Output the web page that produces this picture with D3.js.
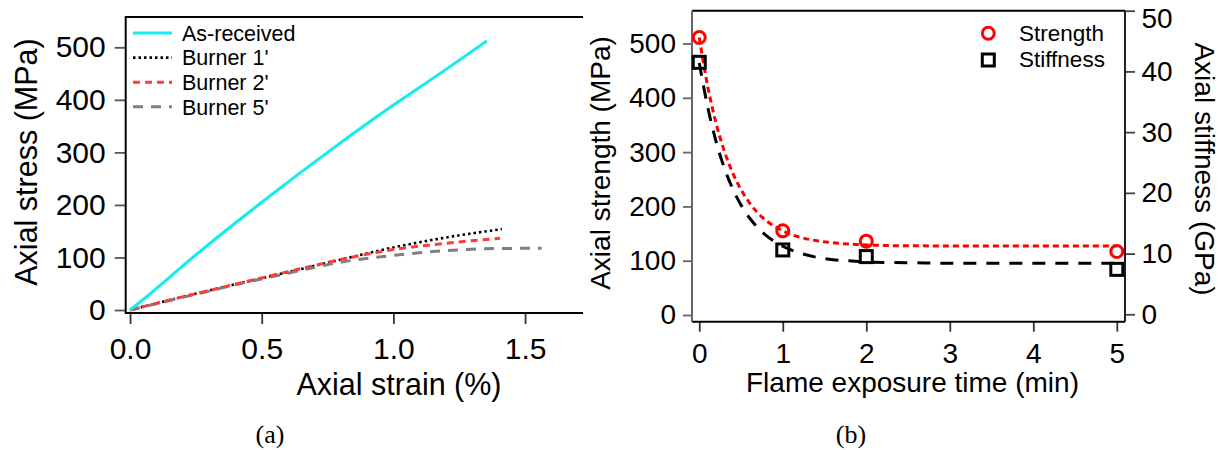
<!DOCTYPE html>
<html>
<head>
<meta charset="utf-8">
<script src="https://cdn.jsdelivr.net/npm/d3@7"></script>
<style>
  html, body { margin: 0; padding: 0; background: #fff; }
  svg { display: block; }
  text { font-family: "Liberation Sans", Arial, sans-serif; fill: #000; }
</style>
</head>
<body>
<svg id="chart" width="1223" height="450"></svg>
<script>
// ---------- Panel (a): stress-strain curves ----------
const seriesNames = ["As-received", "Burner 1'", "Burner 2'", "Burner 5'"];
const strainAsReceived = [0, 0.05, 0.25, 0.5, 0.75, 1.0, 1.2, 1.355];
const stressAsReceived = [0, 20, 105, 205, 300, 390, 458, 512];
const strainBurner1 = [0, 0.2, 0.4, 0.6, 0.8, 1.0, 1.2, 1.412];
const stressBurner1 = [0, 25, 49, 72, 96, 119, 138, 154];
const strainBurner2 = [0, 0.2, 0.4, 0.6, 0.8, 1.0, 1.2, 1.405];
const stressBurner2 = [0, 25, 49, 73, 96, 115, 127, 136.5];
const strainBurner5 = [0, 0.2, 0.4, 0.6, 0.8, 1.0, 1.2, 1.4, 1.563];
const stressBurner5 = [0, 24, 48, 70, 91, 104, 113, 117, 117.5];
const strainTicks = [0, 0.5, 1.0, 1.5];
const stressTicks = [0, 100, 200, 300, 400, 500];

// ---------- Panel (b): strength / stiffness vs exposure ----------
const exposureTimes = [0, 1, 2, 5];
const strengthValues = [511, 155, 136, 117];
const stiffnessValues = [41.5, 10.6, 9.5, 7.4];
const fitTimes = [0, 0.1, 0.2, 0.3, 0.4, 0.5, 0.6, 0.7, 0.8, 1.0, 1.2, 1.4, 1.6, 1.8, 2.0, 2.5, 3, 4, 5];
const strengthFit = [511, 422, 354, 302, 262, 231, 207, 188, 174, 155, 143.5, 137, 133, 130.5, 129, 127.5, 127.2, 127, 127];
const stiffnessFit = [41.4, 34.2, 28.5, 24.1, 20.7, 18.0, 15.9, 14.3, 13.0, 11.2, 10.1, 9.4, 9.0, 8.8, 8.6, 8.5, 8.4, 8.4, 8.4];
const timeTicks = [0, 1, 2, 3, 4, 5];
const strengthTicks = [0, 100, 200, 300, 400, 500];
const stiffnessTicks = [0, 10, 20, 30, 40, 50];

const svg = d3.select("#chart");
svg.append("rect").attr("width", 1223).attr("height", 450).attr("fill", "#fff");

function zip(xs, ys) { return xs.map((x, i) => [x, ys[i]]); }

function styleAxis(g, fontSize, tickColor) {
  g.select(".domain").remove();
  g.selectAll(".tick line").attr("stroke", tickColor).attr("stroke-width", 1.8);
  g.selectAll(".tick text").attr("font-size", fontSize).attr("fill", "#000")
    .attr("font-family", "Liberation Sans, Arial, sans-serif");
}

// ===== Panel (a) =====
const xA = d3.scaleLinear().domain([-0.0165, 1.72]).range([125.7, 583]);
const yA = d3.scaleLinear().domain([-5.7, 557.7]).range([313, 17]);

const gA = svg.append("g");
const axBA = gA.append("g").attr("transform", "translate(0,313)")
  .call(d3.axisBottom(xA).tickValues(strainTicks).tickFormat(d3.format(".1f"))
    .tickSize(11).tickSizeOuter(0).tickPadding(13.5));
styleAxis(axBA, 30, "#333");
const axLA = gA.append("g").attr("transform", "translate(125.7,0)")
  .call(d3.axisLeft(yA).tickValues(stressTicks).tickSize(11).tickSizeOuter(0).tickPadding(9));
styleAxis(axLA, 30, "#555");

// frame lines (left, bottom, top)
gA.append("path")
  .attr("d", `M${xA.range()[1]},${yA.range()[1]}H${xA.range()[0]}V${yA.range()[0]}H${xA.range()[1]}`)
  .attr("fill", "none").attr("stroke", "#000").attr("stroke-width", 2);

const lineA = d3.line().x(d => xA(d[0])).y(d => yA(d[1])).curve(d3.curveMonotoneX);
const seriesA = [
  { name: seriesNames[1], data: zip(strainBurner1, stressBurner1), color: "#000", dash: "2.5,3", w: 2.6 },
  { name: seriesNames[3], data: zip(strainBurner5, stressBurner5), color: "#808080", dash: "10,8", w: 3 },
  { name: seriesNames[2], data: zip(strainBurner2, stressBurner2), color: "#FF3B3B", dash: "7,5", w: 3 },
  { name: seriesNames[0], data: zip(strainAsReceived, stressAsReceived), color: "#12EEEE", dash: null, w: 3 }
];
seriesA.forEach(s => {
  gA.append("path").datum(s.data).attr("d", lineA)
    .attr("fill", "none").attr("stroke", s.color).attr("stroke-width", s.w)
    .attr("stroke-dasharray", s.dash);
});

// legend (a)
const legendOrder = [seriesA[3], seriesA[0], seriesA[2], seriesA[1]];
legendOrder.forEach((s, i) => {
  const y = 33 + i * 24.6;
  gA.append("line").attr("x1", 133).attr("x2", 172).attr("y1", y).attr("y2", y)
    .attr("stroke", s.color).attr("stroke-width", s.w).attr("stroke-dasharray", s.dash);
  gA.append("text").attr("x", 182).attr("y", y + 7.8).attr("font-size", 21.5).text(s.name);
});

gA.append("text").attr("transform", "translate(37,162) rotate(-90)")
  .attr("text-anchor", "middle").attr("font-size", 30.5).text("Axial stress (MPa)");
gA.append("text").attr("x", 399).attr("y", 395)
  .attr("text-anchor", "middle").attr("font-size", 30.5).text("Axial strain (%)");
gA.append("text").attr("x", 270).attr("y", 443).attr("text-anchor", "middle")
  .style("font-family", "'Liberation Serif', serif")
  .attr("font-size", 26).text("(a)");

// ===== Panel (b) =====
const xB = d3.scaleLinear().domain([-0.087, 5.098]).range([692, 1125]);
const yBL = d3.scaleLinear().domain([-12.3, 560.4]).range([321.7, 10.7]);
const yBR = d3.scaleLinear().domain([-1.22, 50]).range([321.7, 10.7]);

const gB = svg.append("g");
const axBB = gB.append("g").attr("transform", "translate(0,321.7)")
  .call(d3.axisBottom(xB).tickValues(timeTicks).tickFormat(d3.format("d"))
    .tickSize(10).tickSizeOuter(0).tickPadding(11.5));
styleAxis(axBB, 28, "#333");
const axLB = gB.append("g").attr("transform", "translate(692,0)")
  .call(d3.axisLeft(yBL).tickValues(strengthTicks).tickSize(9).tickSizeOuter(0).tickPadding(7));
styleAxis(axLB, 28, "#666");
const axRB = gB.append("g").attr("transform", "translate(1125,0)")
  .call(d3.axisRight(yBR).tickValues(stiffnessTicks).tickSize(10).tickSizeOuter(0).tickPadding(6.5));
styleAxis(axRB, 28, "#444");
// top label nudged down so it stays inside the picture (as in the reference)
axRB.selectAll(".tick text").filter(d => d === 50).attr("dy", "0.6em");

// frame
gB.append("line").attr("x1", 692).attr("x2", 1125).attr("y1", 10.7).attr("y2", 10.7).attr("stroke", "#000").attr("stroke-width", 2);
gB.append("line").attr("x1", 692).attr("x2", 1125).attr("y1", 321.7).attr("y2", 321.7).attr("stroke", "#000").attr("stroke-width", 2);
gB.append("line").attr("x1", 692).attr("x2", 692).attr("y1", 10.7).attr("y2", 321.7).attr("stroke", "#666").attr("stroke-width", 2);
gB.append("line").attr("x1", 1125).attr("x2", 1125).attr("y1", 10.7).attr("y2", 321.7).attr("stroke", "#222").attr("stroke-width", 2);

const fitStrength = zip(fitTimes, strengthFit);
const fitStiffness = zip(fitTimes, stiffnessFit);
gB.append("path").datum(fitStiffness)
  .attr("d", d3.line().x(d => xB(d[0])).y(d => yBR(d[1])).curve(d3.curveMonotoneX))
  .attr("fill", "none").attr("stroke", "#000").attr("stroke-width", 3).attr("stroke-dasharray", "13,10");
gB.append("path").datum(fitStrength)
  .attr("d", d3.line().x(d => xB(d[0])).y(d => yBL(d[1])).curve(d3.curveMonotoneX))
  .attr("fill", "none").attr("stroke", "#FF0000").attr("stroke-width", 3).attr("stroke-dasharray", "6,4");

// markers
gB.selectAll("rect.stiff").data(zip(exposureTimes, stiffnessValues)).enter().append("rect")
  .attr("x", d => xB(d[0]) - 6).attr("y", d => yBR(d[1]) - 6)
  .attr("width", 12).attr("height", 12)
  .attr("fill", "none").attr("stroke", "#000").attr("stroke-width", 3);
gB.selectAll("circle.str").data(zip(exposureTimes, strengthValues)).enter().append("circle")
  .attr("cx", d => xB(d[0])).attr("cy", d => yBL(d[1])).attr("r", 6)
  .attr("fill", "none").attr("stroke", "#FF0000").attr("stroke-width", 3);

// legend (b)
gB.append("circle").attr("cx", 988.3).attr("cy", 33.3).attr("r", 6)
  .attr("fill", "none").attr("stroke", "#FF0000").attr("stroke-width", 3);
gB.append("rect").attr("x", 982.3).attr("y", 54).attr("width", 12).attr("height", 12)
  .attr("fill", "none").attr("stroke", "#000").attr("stroke-width", 3);
gB.append("text").attr("x", 1019).attr("y", 41).attr("font-size", 22.5).text("Strength");
gB.append("text").attr("x", 1019).attr("y", 66.5).attr("font-size", 22.5).text("Stiffness");

gB.append("text").attr("transform", "translate(610,163) rotate(-90)")
  .attr("text-anchor", "middle").attr("font-size", 28).text("Axial strength (MPa)");
gB.append("text").attr("transform", "translate(1195,169) rotate(90)")
  .attr("text-anchor", "middle").attr("font-size", 28).text("Axial stiffness (GPa)");
gB.append("text").attr("x", 912.5).attr("y", 392)
  .attr("text-anchor", "middle").attr("font-size", 28).text("Flame exposure time (min)");
gB.append("text").attr("x", 851).attr("y", 443).attr("text-anchor", "middle")
  .style("font-family", "'Liberation Serif', serif")
  .attr("font-size", 26).text("(b)");
</script>
</body>
</html>
